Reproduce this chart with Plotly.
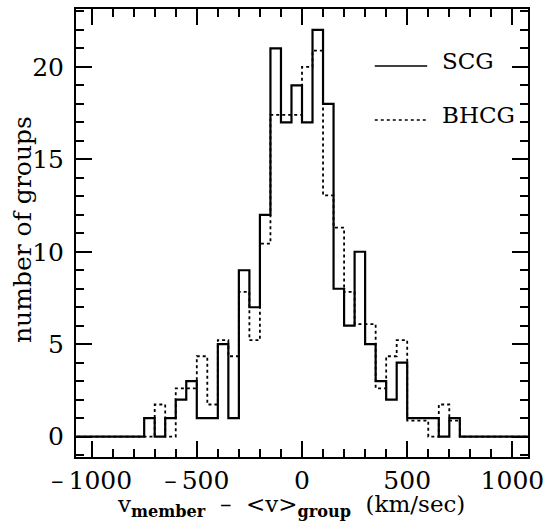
import plotly.graph_objects as go

# bin left edges (km/sec), bin width 50
bin_left = [-750, -700, -650, -600, -550, -500, -450, -400, -350, -300,
            -250, -200, -150, -100, -50, 0, 50, 100, 150, 200,
            250, 300, 350, 400, 450, 500, 550, 600, 650, 700]
bin_width = 50
scg = [1, 0, 1, 2, 3, 1, 1, 5, 1, 9,
       7, 12, 21, 17, 19, 17, 22, 18, 8, 6,
       10, 5, 3, 2, 4, 1, 1, 1, 0, 1]
bhcg = [0, 1.74, 0, 2.61, 2.61, 4.35, 1.74, 5.22, 4.35, 7.83,
        5.22, 10.44, 17.4, 17.4, 17.4, 20.0, 20.88, 13.05, 11.31, 7.83,
        6.09, 6.09, 2.61, 4.35, 5.22, 0.87, 0.87, 0, 1.74, 0.87]
x_range = [-1074, 1074]
y_range = [-1.1, 23.13]
x_ticks = [-1000, -500, 0, 500, 1000]
x_ticktext = ["\u2013\u20091000", "\u2013\u2009500", "0", "500", "1000"]
y_ticks = [0, 5, 10, 15, 20]


def steps(vals):
    xs = [x_range[0] - 50] + bin_left + [bin_left[-1] + bin_width, x_range[1] + 50]
    ys = [0] + vals + [0, 0]
    return xs, ys


fig = go.Figure()
xs, ys = steps(bhcg)
fig.add_trace(go.Scatter(x=xs, y=ys, mode="lines", line_shape="hv",
                         line=dict(color="black", width=1.8, dash="dot"),
                         name="BHCG", showlegend=False))
xs, ys = steps(scg)
fig.add_trace(go.Scatter(x=xs, y=ys, mode="lines", line_shape="hv",
                         line=dict(color="black", width=2.2),
                         name="SCG", showlegend=False))

font_family = "DejaVu Serif"
axis_common = dict(showgrid=False, zeroline=False, showline=True, linecolor="black",
                   linewidth=2, mirror="allticks", ticks="inside", ticklen=16,
                   tickwidth=1.5, tickcolor="black", automargin=False,
                   tickfont=dict(family=font_family, size=25, color="black"))

fig.update_xaxes(range=x_range, tickvals=x_ticks, ticktext=x_ticktext,
                 minor=dict(dtick=100, tick0=0, ticks="inside", ticklen=8,
                            tickwidth=1.5, tickcolor="black"),
                 **axis_common)
fig.update_yaxes(range=y_range, tickvals=y_ticks, ticklabelstandoff=5,
                 minor=dict(dtick=1, tick0=0, ticks="inside", ticklen=8,
                            tickwidth=1.5, tickcolor="black"),
                 **axis_common)

# axis titles
fig.add_annotation(xref="paper", yref="paper", x=0.476, y=-0.072,
                   text="v<sub><b>member</b></sub>  \u2013  &lt;v&gt;<sub><b>group</b></sub>  (km/sec)",
                   showarrow=False, xanchor="center", yanchor="top",
                   font=dict(family=font_family, size=23, color="black"))
fig.add_annotation(xref="paper", yref="paper", x=-0.117, y=0.507,
                   text="number of groups", textangle=-90,
                   showarrow=False, xanchor="center", yanchor="middle",
                   font=dict(family=font_family, size=25, color="black"))

# legend drawn as line samples + labels
fig.add_shape(type="line", xref="paper", yref="paper", x0=0.661, x1=0.777,
              y0=0.873, y1=0.873, line=dict(color="black", width=1.5))
fig.add_shape(type="line", xref="paper", yref="paper", x0=0.661, x1=0.777,
              y0=0.752, y1=0.752, line=dict(color="black", width=1.5, dash="dot"))
fig.add_annotation(xref="paper", yref="paper", x=0.805, y=0.885, text="SCG",
                   showarrow=False, xanchor="left", yanchor="middle",
                   font=dict(family=font_family, size=23, color="black"))
fig.add_annotation(xref="paper", yref="paper", x=0.805, y=0.764, text="BHCG",
                   showarrow=False, xanchor="left", yanchor="middle",
                   font=dict(family=font_family, size=23, color="black"))

fig.update_layout(width=545, height=523, margin=dict(l=76, r=17, t=9, b=66),
                  plot_bgcolor="white", paper_bgcolor="white")

fig.write_html("out.html", config={"displayModeBar": False},
               post_script="document.body.style.margin='0px';")
